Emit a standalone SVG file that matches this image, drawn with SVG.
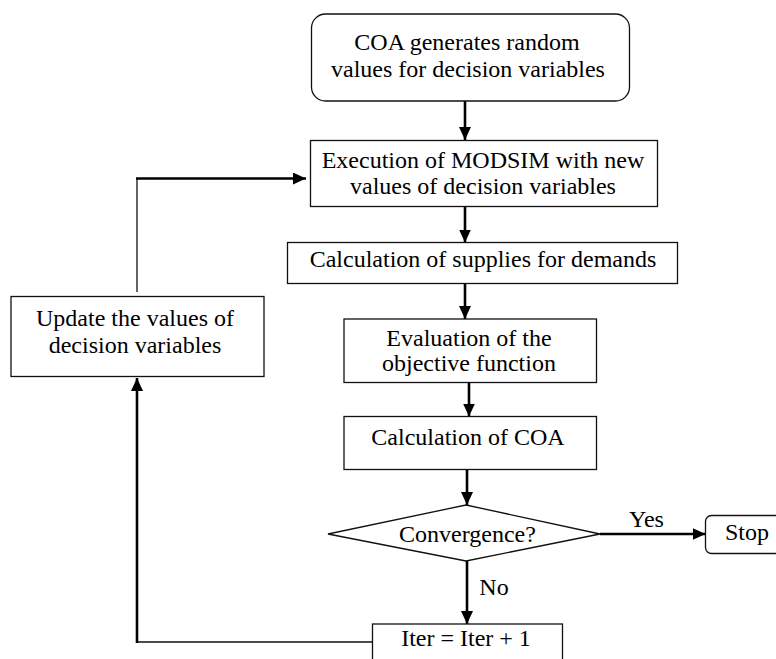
<svg xmlns="http://www.w3.org/2000/svg" width="776" height="659" viewBox="0 0 776 659">
<style>
.box{fill:#fff;stroke:#111;stroke-width:1.3}
.t{font-family:"Liberation Serif","Times New Roman",serif;font-size:24px;fill:#000;text-anchor:middle}
.thick{fill:none;stroke:#000;stroke-width:2.6}
.thin{fill:none;stroke:#111;stroke-width:1.3}
</style>
<defs>
<marker id="ah" viewBox="0 0 13 12" refX="13" refY="6" markerWidth="13" markerHeight="12" markerUnits="userSpaceOnUse" orient="auto">
<path d="M0,0 L13,6 L0,12 z" fill="#000"/>
</marker>
</defs>
<rect width="776" height="659" fill="#fff"/>
<g id="connectors">
<line class="thick" x1="465" y1="101" x2="465" y2="140" marker-end="url(#ah)"/>
<line class="thick" x1="465" y1="207" x2="465" y2="242.5" marker-end="url(#ah)"/>
<line class="thick" x1="465" y1="284" x2="465" y2="319" marker-end="url(#ah)"/>
<line class="thick" x1="469" y1="383" x2="469" y2="416.5" marker-end="url(#ah)"/>
<line class="thick" x1="467" y1="470" x2="467" y2="505" marker-end="url(#ah)"/>
<line class="thick" x1="600" y1="534" x2="705.5" y2="534" marker-end="url(#ah)"/>
<line class="thick" x1="467" y1="561" x2="467" y2="624" marker-end="url(#ah)"/>
<line class="thin" x1="372.5" y1="642" x2="137" y2="642"/>
<line class="thick" x1="137" y1="643" x2="137" y2="378" marker-end="url(#ah)"/>
<line class="thin" x1="137" y1="292" x2="137" y2="178"/>
<line class="thick" x1="136" y1="178.5" x2="306" y2="178.5" marker-end="url(#ah)"/>
<text class="t" x="646.5" y="527">Yes</text>
<text class="t" x="494" y="595">No</text>
</g>
<g id="start">
<rect class="box" x="311.5" y="14" width="318" height="87" rx="14"/>
<text class="t" x="467" y="50">COA generates random</text>
<text class="t" x="468" y="77">values for decision variables</text>
</g>
<g id="modsim">
<rect class="box" x="310.5" y="140.5" width="347" height="66"/>
<text class="t" x="483" y="168">Execution of MODSIM with new</text>
<text class="t" x="483" y="194">values of decision variables</text>
</g>
<g id="supplies">
<rect class="box" x="287.5" y="242.5" width="390" height="41"/>
<text class="t" x="483" y="267">Calculation of supplies for demands</text>
</g>
<g id="objective">
<rect class="box" x="344" y="319" width="252.5" height="63.5"/>
<text class="t" x="469" y="346">Evaluation of the</text>
<text class="t" x="469" y="371">objective function</text>
</g>
<g id="coa">
<rect class="box" x="344" y="416.5" width="252.5" height="53"/>
<text class="t" x="468" y="445">Calculation of COA</text>
</g>
<g id="convergence">
<polygon class="box" points="466,505 600,534 466,561 328,534"/>
<text class="t" x="467.5" y="542">Convergence?</text>
</g>
<g id="stop">
<rect class="box" x="705.5" y="515.5" width="85" height="38" rx="6"/>
<text class="t" x="747" y="540">Stop</text>
</g>
<g id="iter">
<rect class="box" x="372.5" y="624" width="190" height="50"/>
<text class="t" x="466" y="646">Iter = Iter + 1</text>
</g>
<g id="update">
<rect class="box" x="11" y="296.5" width="253" height="80"/>
<text class="t" x="135" y="326">Update the values of</text>
<text class="t" x="135" y="353">decision variables</text>
</g>
</svg>
